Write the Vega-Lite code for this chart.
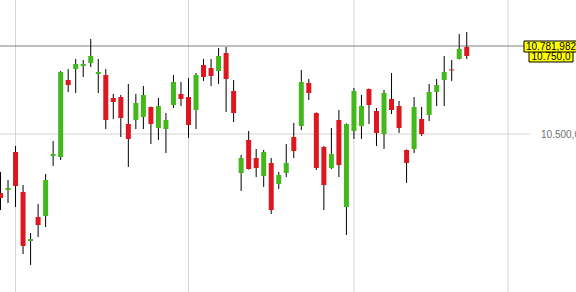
{
  "$schema": "https://vega.github.io/schema/vega-lite/v6.json",
  "width": 576,
  "height": 292,
  "autosize": {"type": "none"},
  "padding": 0,
  "background": "white",
  "config": {"view": {"stroke": null}, "scale": {"continuousPadding": 0}},
  "data": {"values": [
    {"i":0,"o":10311.0,"h":10378.3,"l":10256.5,"c":10294.9},
    {"i":1,"o":10320.6,"h":10352.6,"l":10278.9,"c":10327.0},
    {"i":2,"o":10442.3,"h":10461.6,"l":10266.1,"c":10333.4},
    {"i":3,"o":10314.2,"h":10336.6,"l":10115.5,"c":10141.1},
    {"i":4,"o":10157.2,"h":10182.8,"l":10080.3,"c":10163.6},
    {"i":5,"o":10234.1,"h":10275.7,"l":10170.0,"c":10208.4},
    {"i":6,"o":10237.3,"h":10371.9,"l":10202.0,"c":10352.6},
    {"i":7,"o":10429.5,"h":10477.6,"l":10397.5,"c":10435.9},
    {"i":8,"o":10426.3,"h":10701.9,"l":10416.7,"c":10698.7},
    {"i":9,"o":10673.1,"h":10708.3,"l":10634.6,"c":10657.0},
    {"i":10,"o":10708.3,"h":10740.3,"l":10631.4,"c":10724.3},
    {"i":11,"o":10717.9,"h":10737.1,"l":10682.7,"c":10724.3},
    {"i":12,"o":10727.5,"h":10804.4,"l":10714.7,"c":10750.0},
    {"i":13,"o":10692.3,"h":10740.3,"l":10631.4,"c":10698.7},
    {"i":14,"o":10689.1,"h":10708.3,"l":10516.0,"c":10544.9},
    {"i":15,"o":10615.4,"h":10628.2,"l":10548.1,"c":10602.6},
    {"i":16,"o":10618.6,"h":10625.0,"l":10490.4,"c":10551.3},
    {"i":17,"o":10532.1,"h":10660.2,"l":10394.3,"c":10484.0},
    {"i":18,"o":10544.9,"h":10628.2,"l":10516.0,"c":10599.4},
    {"i":19,"o":10554.5,"h":10653.8,"l":10516.0,"c":10625.0},
    {"i":20,"o":10586.5,"h":10588.0,"l":10468.0,"c":10532.1},
    {"i":21,"o":10519.2,"h":10615.4,"l":10480.8,"c":10589.7},
    {"i":22,"o":10516.0,"h":10567.3,"l":10439.1,"c":10544.9},
    {"i":23,"o":10592.9,"h":10689.1,"l":10583.3,"c":10666.6},
    {"i":24,"o":10628.2,"h":10666.6,"l":10589.7,"c":10612.2},
    {"i":25,"o":10618.6,"h":10679.5,"l":10487.2,"c":10528.9},
    {"i":26,"o":10576.9,"h":10695.5,"l":10516.0,"c":10689.1},
    {"i":27,"o":10721.1,"h":10740.3,"l":10669.9,"c":10682.7},
    {"i":28,"o":10711.5,"h":10740.3,"l":10653.8,"c":10685.9},
    {"i":29,"o":10701.9,"h":10775.6,"l":10660.2,"c":10750.0},
    {"i":30,"o":10759.6,"h":10778.8,"l":10570.5,"c":10676.3},
    {"i":31,"o":10637.8,"h":10673.1,"l":10538.5,"c":10567.3},
    {"i":32,"o":10375.1,"h":10432.7,"l":10317.4,"c":10423.1},
    {"i":33,"o":10480.8,"h":10509.6,"l":10386.0,"c":10387.9},
    {"i":34,"o":10423.1,"h":10452.0,"l":10362.2,"c":10391.1},
    {"i":35,"o":10365.4,"h":10448.8,"l":10330.2,"c":10442.3},
    {"i":36,"o":10407.1,"h":10423.1,"l":10243.7,"c":10256.5},
    {"i":37,"o":10339.8,"h":10378.3,"l":10323.8,"c":10368.6},
    {"i":38,"o":10375.1,"h":10468.0,"l":10362.2,"c":10407.1},
    {"i":39,"o":10490.4,"h":10535.3,"l":10423.1,"c":10445.6},
    {"i":40,"o":10525.7,"h":10705.1,"l":10512.8,"c":10666.6},
    {"i":41,"o":10663.4,"h":10676.3,"l":10609.0,"c":10631.4},
    {"i":42,"o":10567.3,"h":10569.0,"l":10384.7,"c":10391.1},
    {"i":43,"o":10458.4,"h":10461.6,"l":10256.5,"c":10336.6},
    {"i":44,"o":10391.1,"h":10519.2,"l":10387.9,"c":10435.9},
    {"i":45,"o":10544.9,"h":10576.9,"l":10362.2,"c":10400.7},
    {"i":46,"o":10266.1,"h":10534.0,"l":10176.4,"c":10532.1},
    {"i":47,"o":10509.6,"h":10647.4,"l":10484.0,"c":10637.8},
    {"i":48,"o":10525.7,"h":10625.0,"l":10484.0,"c":10589.7},
    {"i":49,"o":10644.2,"h":10646.0,"l":10532.1,"c":10592.9},
    {"i":50,"o":10573.7,"h":10583.3,"l":10461.6,"c":10503.2},
    {"i":51,"o":10500.0,"h":10641.0,"l":10452.0,"c":10631.4},
    {"i":52,"o":10612.2,"h":10695.5,"l":10564.1,"c":10576.9},
    {"i":53,"o":10589.7,"h":10605.8,"l":10503.2,"c":10519.2},
    {"i":54,"o":10448.8,"h":10450.5,"l":10343.0,"c":10407.1},
    {"i":55,"o":10452.0,"h":10618.6,"l":10439.1,"c":10586.5},
    {"i":56,"o":10548.1,"h":10586.5,"l":10493.6,"c":10500.0},
    {"i":57,"o":10560.9,"h":10660.2,"l":10541.7,"c":10634.6},
    {"i":58,"o":10634.6,"h":10676.3,"l":10589.7,"c":10657.0},
    {"i":59,"o":10673.1,"h":10750.0,"l":10589.7,"c":10698.7},
    {"i":60,"o":10706.7,"h":10737.1,"l":10669.9,"c":10703.5},
    {"i":61,"o":10740.3,"h":10820.5,"l":10739.0,"c":10772.4},
    {"i":62,"o":10778.8,"h":10826.9,"l":10740.3,"c":10750.0}
  ]},
  "resolve": {"scale": {"x": "shared", "y": "shared"}},
  "layer": [
    {
      "data": {"values": [{"g": 2}, {"g": 25}, {"g": 47}, {"g": 67.5}]},
      "mark": {"type": "rule", "color": "#d4d4d4", "strokeWidth": 1},
      "encoding": {
        "x": {"field": "g", "type": "quantitative", "scale": {"domain": [-0.0665, 76.53], "nice": false, "zero": false, "padding": 0}, "axis": null}
      }
    },
    {
      "data": {"values": [{"v": 10500, "a": -0.07, "b": 70.4}]},
      "mark": {"type": "rule", "color": "#d4d4d4", "strokeWidth": 1},
      "encoding": {
        "x": {"field": "a", "type": "quantitative", "scale": {"domain": [-0.0665, 76.53], "nice": false, "zero": false, "padding": 0}, "axis": null},
        "x2": {"field": "b"},
        "y": {"field": "v", "type": "quantitative", "scale": {"domain": [9993.7, 10929.4], "nice": false, "zero": false}, "axis": null}
      }
    },
    {
      "data": {"values": [{"v": 10781.982, "a": -0.0665, "b": 70}]},
      "mark": {"type": "rule", "color": "#808080", "strokeWidth": 1},
      "encoding": {
        "x": {"field": "a", "type": "quantitative", "scale": {"domain": [-0.0665, 76.53], "nice": false, "zero": false, "padding": 0}, "axis": null},
        "x2": {"field": "b"},
        "y": {"field": "v", "type": "quantitative", "scale": {"domain": [9993.7, 10929.4], "nice": false, "zero": false}, "axis": null}
      }
    },
    {
      "mark": {"type": "rule", "color": "#000000", "strokeWidth": 1},
      "encoding": {
        "x": {"field": "i", "type": "quantitative", "scale": {"domain": [-0.0665, 76.53], "nice": false, "zero": false, "padding": 0}, "axis": null},
        "y": {"field": "l", "type": "quantitative", "scale": {"domain": [9993.7, 10929.4], "nice": false, "zero": false}, "axis": null},
        "y2": {"field": "h"}
      }
    },
    {
      "mark": {"type": "bar", "size": 5},
      "encoding": {
        "x": {"field": "i", "type": "quantitative", "scale": {"domain": [-0.0665, 76.53], "nice": false, "zero": false, "padding": 0}, "axis": null},
        "y": {"field": "o", "type": "quantitative", "scale": {"domain": [9993.7, 10929.4], "nice": false, "zero": false}, "axis": null},
        "y2": {"field": "c"},
        "color": {"condition": {"test": "datum.c >= datum.o", "value": "#42b81a"}, "value": "#dd1620"}
      }
    },
    {
      "data": {"values": [{"v": 10750.0, "a": 70.28, "b": 76.13, "t": 70.62, "label": "10.750,0"}, {"v": 10781.982, "a": 69.61, "b": 77, "t": 69.88, "label": "10.781,982"}]},
      "layer": [
        {
          "mark": {"type": "rect", "fill": "#ffff00", "stroke": "#000000", "strokeWidth": 1, "yOffset": -5, "y2Offset": 6},
          "encoding": {
            "x": {"field": "a", "type": "quantitative", "scale": {"domain": [-0.0665, 76.53], "nice": false, "zero": false, "padding": 0}, "axis": null},
            "x2": {"field": "b"},
            "y": {"field": "v", "type": "quantitative", "scale": {"domain": [9993.7, 10929.4], "nice": false, "zero": false}, "axis": null},
            "y2": {"field": "v"}
          }
        },
        {
          "mark": {"type": "text", "align": "left", "baseline": "middle", "font": "Liberation Sans", "fontSize": 10, "color": "#000000", "dy": 1},
          "encoding": {
            "x": {"field": "t", "type": "quantitative", "scale": {"domain": [-0.0665, 76.53], "nice": false, "zero": false, "padding": 0}, "axis": null},
            "y": {"field": "v", "type": "quantitative", "scale": {"domain": [9993.7, 10929.4], "nice": false, "zero": false}, "axis": null},
            "text": {"field": "label"}
          }
        }
      ]
    },
    {
      "data": {"values": [{"v": 10500, "t": 71.88, "label": "10.500,0"}]},
      "mark": {"type": "text", "align": "left", "baseline": "middle", "font": "Liberation Sans", "fontSize": 10, "color": "#707070", "dy": 1},
      "encoding": {
        "x": {"field": "t", "type": "quantitative", "scale": {"domain": [-0.0665, 76.53], "nice": false, "zero": false, "padding": 0}, "axis": null},
        "y": {"field": "v", "type": "quantitative", "scale": {"domain": [9993.7, 10929.4], "nice": false, "zero": false}, "axis": null},
        "text": {"field": "label"}
      }
    }
  ]
}
